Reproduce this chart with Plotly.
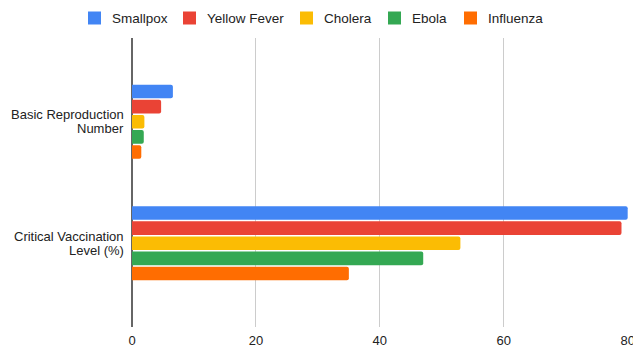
import plotly.graph_objects as go

categories = ["Basic Reproduction<br>Number", "Critical Vaccination<br>Level (%)"]
series_names = ["Smallpox", "Yellow Fever", "Cholera", "Ebola", "Influenza"]
smallpox = [6.6, 80]
yellow_fever = [4.7, 79]
cholera = [2.0, 53]
ebola = [1.9, 47]
influenza = [1.5, 35]
colors = ["#4285F4", "#EA4335", "#FBBC04", "#34A853", "#FF6D01"]
x_ticks = [0, 20, 40, 60, 80]

values = [smallpox, yellow_fever, cholera, ebola, influenza]

W, H = 633, 347
ML, MR, MT, MB = 132, 5, 38, 20
PW, PH = W - ML - MR, H - MT - MB

fig = go.Figure()
for name, vals, col in zip(series_names, values, colors):
    fig.add_trace(go.Bar(
        y=categories, x=vals, name=name, orientation="h",
        marker=dict(color=col, line=dict(width=0)),
        showlegend=False,
    ))

def px2x(px):
    return (px - ML) / PW

def py2y(py):
    return 1 - (py - MT) / PH

# custom compact legend
legend_square_left = [88, 183, 300, 388, 464]
shapes = []
annotations = []
for name, col, sx in zip(series_names, colors, legend_square_left):
    shapes.append(dict(type="rect", xref="paper", yref="paper",
                       x0=px2x(sx), x1=px2x(sx + 13), y0=py2y(24.5), y1=py2y(11.5),
                       fillcolor=col, line=dict(width=0)))
    annotations.append(dict(xref="paper", yref="paper", x=px2x(sx + 22), y=py2y(18),
                            xanchor="left", yanchor="middle", text=name, showarrow=False,
                            font=dict(size=13.5, color="#222222")))

# category labels with tighter line spacing
for cat in categories:
    lines = cat.split("<br>")
    n = len(lines)
    for i, line in enumerate(lines):
        annotations.append(dict(xref="paper", yref="y", x=0, y=cat, xanchor="right",
                                yanchor="middle", xshift=-6, yshift=(n - 1) / 2 * 14.5 - i * 14.5,
                                text=line, showarrow=False,
                                font=dict(size=13, color="#222222")))

fig.update_layout(
    width=W, height=H,
    margin=dict(l=ML, r=MR, t=MT, b=MB, autoexpand=False),
    paper_bgcolor="white", plot_bgcolor="white",
    font=dict(family="Liberation Sans, Arial, sans-serif", size=13, color="#222222"),
    barmode="group", bargap=0.377, bargroupgap=0.1, barcornerradius=2,
    showlegend=False,
    shapes=shapes, annotations=annotations,
    xaxis=dict(range=[0, 80.05], tickvals=x_ticks, showgrid=True, gridcolor="#cccccc",
               gridwidth=1, zeroline=True, zerolinecolor="#666666", zerolinewidth=1.5,
               ticks="", showline=False, automargin=False, fixedrange=True,
               ticklabeloverflow="allow", ticklabelstandoff=4),
    yaxis=dict(type="category", range=[1.689, -0.689], ticks="", showgrid=False,
               showticklabels=False, automargin=False),
)

fig.write_html("out.html")
